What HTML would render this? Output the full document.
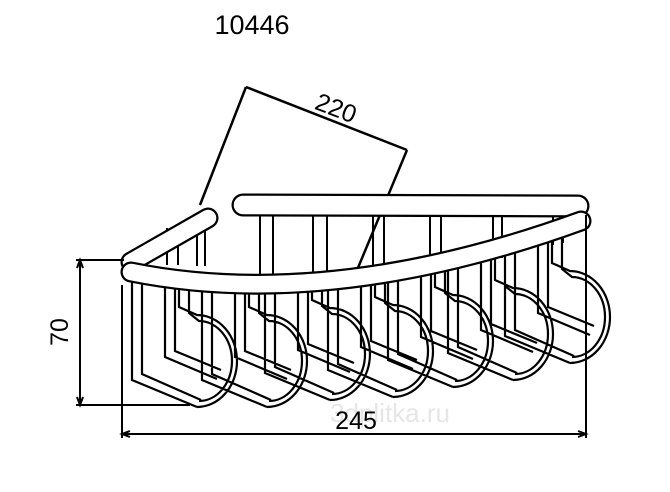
<!DOCTYPE html>
<html><head><meta charset="utf-8"><style>
html,body{margin:0;padding:0;background:#fff;}
svg{display:block;}
text{font-family:"Liberation Sans",sans-serif;}
</style></head><body>
<svg width="670" height="492" viewBox="0 0 670 492" xmlns="http://www.w3.org/2000/svg">
<rect width="670" height="492" fill="#fff"/>
<text x="252" y="34" font-size="27" text-anchor="middle">10446</text>
<g stroke="#000" stroke-width="2.5" fill="none">
<line x1="246" y1="87" x2="407" y2="150"/>
<line x1="246" y1="87" x2="200" y2="205"/>
<line x1="407" y1="150" x2="355" y2="275"/>
</g>
<text x="0" y="0" font-size="25" text-anchor="middle" transform="translate(333,116) rotate(21)">220</text>

<text x="390" y="422" font-size="26" text-anchor="middle" fill="#e6e6e6">3dplitka.ru</text>

<g stroke="#000" stroke-width="2" fill="none">
<path d="M260 215V280 M273 215V280 M313 215V282 M327 215V282 M373 215V280 M384 215V280 M430 215V272 M441 215V270 M493 215V260 M502 215V258 M553 215V245 M563 215V243 M167 228V265 M178 224V265 M197 218V266 M205 218V266"/>
</g>
<g id="hooks" stroke="#000" stroke-width="2.2" fill="none"></g>

<g fill="none" stroke-linecap="round">
<line x1="243" y1="205" x2="578" y2="206" stroke="#000" stroke-width="23"/>
<line x1="243" y1="205" x2="578" y2="206" stroke="#fff" stroke-width="18.5"/>
<line x1="131" y1="262" x2="208" y2="218" stroke="#000" stroke-width="21"/>
<line x1="131" y1="262" x2="208" y2="218" stroke="#fff" stroke-width="16.5"/>
<path d="M131 272 Q330 312 581 221" stroke="#000" stroke-width="21"/>
<path d="M131 272 Q330 312 581 221" stroke="#fff" stroke-width="16.5"/>
</g>

<g stroke="#000" stroke-width="2" fill="none">
<line x1="76" y1="260" x2="124" y2="260"/>
<line x1="76" y1="405" x2="190" y2="405"/>
<line x1="80" y1="260" x2="80" y2="405"/>
<path d="M77 268L80 260L83 268 M77 397L80 405L83 397"/>
<line x1="122" y1="285" x2="122" y2="438"/>
<line x1="586" y1="215" x2="586" y2="438"/>
<line x1="122" y1="434" x2="586" y2="434"/>
<path d="M130 431L122 434L130 437 M578 431L586 434L578 437"/>
</g>
<text x="0" y="0" font-size="25" text-anchor="middle" transform="translate(68,332) rotate(-90)">70</text>
<text x="356" y="429" font-size="25" text-anchor="middle">245</text>
</svg>
<script>
(function(){
function ry(x){var lo=0,hi=1;for(var k=0;k<30;k++){var t=(lo+hi)/2;var xx=131*(1-t)*(1-t)+660*t*(1-t)+581*t*t;if(xx<x)lo=t;else hi=t;}var t=lo;return 272*(1-t)*(1-t)+624*t*(1-t)+221*t*t+6;}
var rights=[237,307,370,433,493,553,610],bots=[407,407,400,397,387,380,363];
var g=document.getElementById('hooks'),d='';
function v(x){return 'M'+x+' '+ry(x).toFixed(1);}
for(var i=0;i<7;i++){
 var L=rights[i]-40,B=bots[i],T=B-92;
 d+=v(L-65)+'V'+(B-27)+'L'+L+' '+B;
 d+=v(L-55)+'V'+(B-33)+'L'+(L+4)+' '+(B-7);
 d+=v(L-32)+'V'+(B-50)+'L'+(L+20)+' '+(B-28);
 d+=v(L-22)+'V'+(B-56)+'L'+(L+24)+' '+(B-37);
 d+=v(L-18)+'V'+(T-8)+'L'+L+' '+T+'A40 46 0 0 1 '+L+' '+B;
 d+=v(L-8)+'V'+(T-2)+'L'+(L+2)+' '+(T+6)+'A33 40 0 0 1 '+(L+2)+' '+(B-6);
}
var p=document.createElementNS('http://www.w3.org/2000/svg','path');
p.setAttribute('d',d);g.appendChild(p);
})();
</script>
</body></html>
